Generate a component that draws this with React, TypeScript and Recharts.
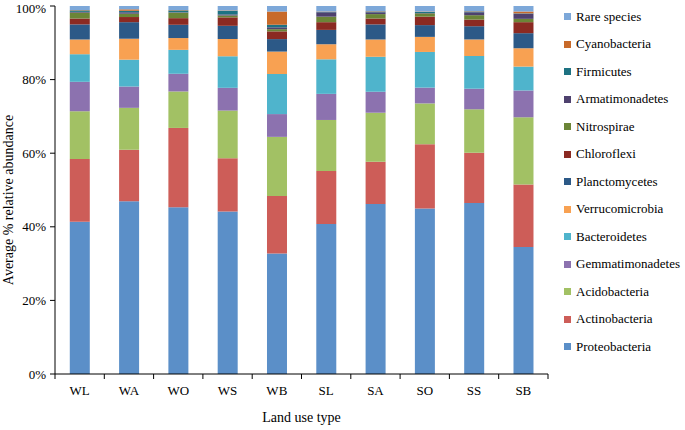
import React from 'react'
import { Bar, BarChart, XAxis, YAxis, Label } from 'recharts'

const categories = ['WL', 'WA', 'WO', 'WS', 'WB', 'SL', 'SA', 'SO', 'SS', 'SB']

// values, % per land use type
const proteobacteria = [41.4, 47.0, 45.3, 44.3, 32.8, 40.8, 46.2, 45.0, 46.5, 34.6]
const actinobacteria = [17.0, 14.0, 21.5, 14.5, 15.6, 14.4, 11.5, 17.5, 13.7, 17.0]
const acidobacteria = [13.0, 11.4, 9.9, 13.0, 16.1, 13.9, 13.3, 11.1, 11.8, 18.3]
const gemmatimonadetes = [8.0, 5.8, 4.8, 6.2, 6.2, 7.1, 5.7, 4.3, 5.6, 7.3]
const bacteroidetes = [7.5, 7.3, 6.5, 8.6, 10.9, 9.4, 9.5, 9.7, 8.9, 6.5]
const verrucomicrobia = [4.0, 5.7, 3.2, 4.7, 6.1, 4.1, 4.7, 4.1, 4.5, 5.0]
const planctomycetes = [4.1, 4.5, 3.6, 3.6, 3.4, 3.9, 4.1, 3.2, 3.6, 4.1]
const chloroflexi = [1.6, 1.4, 1.8, 2.3, 2.1, 2.1, 1.6, 2.3, 1.8, 3.0]
const nitrospirae = [1.6, 0.9, 1.5, 0.5, 0.6, 1.5, 1.2, 0.9, 1.2, 0.9]
const armatimonadetes = [0.2, 0.4, 0.1, 0.3, 0.5, 1.2, 0.5, 0.1, 0.8, 1.4]
const firmicutes = [0.4, 0.4, 0.5, 1.0, 0.7, 0.1, 0.2, 0.3, 0.2, 0.1]
const cyanobacteria = [0.1, 0.4, 0.1, 0.1, 3.6, 0.1, 0.1, 0.1, 0.1, 0.5]
const rareSpecies = [1.1, 0.9, 1.1, 1.2, 1.5, 1.5, 1.4, 1.5, 1.4, 1.5]

const yTicks = [0, 0.2, 0.4, 0.6, 0.8, 1]

const series = [
  { key: 'Proteobacteria', values: proteobacteria, color: '#5B8FC8' },
  { key: 'Actinobacteria', values: actinobacteria, color: '#CD5D58' },
  { key: 'Acidobacteria', values: acidobacteria, color: '#A2C164' },
  { key: 'Gemmatimonadetes', values: gemmatimonadetes, color: '#8C72AF' },
  { key: 'Bacteroidetes', values: bacteroidetes, color: '#4FB4CC' },
  { key: 'Verrucomicrobia', values: verrucomicrobia, color: '#F8A152' },
  { key: 'Planctomycetes', values: planctomycetes, color: '#2C5987' },
  { key: 'Chloroflexi', values: chloroflexi, color: '#8B2A22' },
  { key: 'Nitrospirae', values: nitrospirae, color: '#6B8537' },
  { key: 'Armatimonadetes', values: armatimonadetes, color: '#4E416E' },
  { key: 'Firmicutes', values: firmicutes, color: '#1E7282' },
  { key: 'Cyanobacteria', values: cyanobacteria, color: '#C86A2A' },
  { key: 'Rare species', values: rareSpecies, color: '#7DA8D9' },
]

const data = categories.map((name, i) => {
  const row: Record<string, number | string> = { name }
  series.forEach(s => {
    row[s.key] = s.values[i]
  })
  return row
})

const FONT = "'Liberation Serif', 'Times New Roman', serif"

function CategoryTick(props: any) {
  const { x, y, payload, index, visibleTicksCount } = props
  const half = payload && payload.offset ? payload.offset : 24.65
  const isLast = index === visibleTicksCount - 1
  return (
    <g>
      <line x1={x - half} x2={x - half} y1={y} y2={y + 5} stroke="#000" />
      {isLast && <line x1={x + half} x2={x + half} y1={y} y2={y + 5} stroke="#000" />}
      <text x={x} y={y + 21} textAnchor="middle" fontSize={13} fontFamily={FONT} fill="#000">
        {payload.value}
      </text>
    </g>
  )
}

export default function App() {
  const legendItems = [...series].reverse()
  return (
    <div style={{ position: 'absolute', left: 0, top: 0, width: 685, height: 430, background: '#fff' }}>
      <BarChart
        width={685}
        height={430}
        data={data}
        stackOffset="expand"
        barCategoryGap="30%"
        margin={{ top: 6, right: 137, left: 0, bottom: 6 }}
      >
        <XAxis
          dataKey="name"
          tickLine={false}
          tickSize={0}
          tickMargin={0}
          height={50}
          axisLine={{ stroke: '#000' }}
          tick={<CategoryTick />}
          interval={0}
        >
          <Label
            value="Land use type"
            position="insideBottom"
            offset={2}
            style={{ fontFamily: FONT, fontSize: 14, fill: '#000' }}
          />
        </XAxis>
        <YAxis
          width={55}
          domain={[0, 1]}
          ticks={yTicks}
          tickFormatter={v => `${Math.round(v * 100)}%`}
          axisLine={{ stroke: '#000' }}
          tickLine={{ stroke: '#000' }}
          tickSize={5}
          tickMargin={4}
          tick={{ fontFamily: FONT, fontSize: 13, fill: '#000' }}
        >
          <Label
            content={({ viewBox }: any) => {
              const cy = viewBox.y + viewBox.height / 2 + 10
              return (
                <text
                  x={10}
                  y={cy}
                  transform={`rotate(-90, 10, ${cy})`}
                  textAnchor="middle"
                  dominantBaseline="middle"
                  fontFamily={FONT}
                  fontSize={14}
                  fill="#000"
                >
                  Average % relative abundance
                </text>
              )
            }}
          />
        </YAxis>
        {series.map(s => (
          <Bar key={s.key} dataKey={s.key} stackId="a" fill={s.color} isAnimationActive={false} />
        ))}
      </BarChart>
      <div style={{ position: 'absolute', left: 564, top: 3, fontFamily: FONT, fontSize: 13 }}>
        {legendItems.map(s => (
          <div key={s.key} style={{ height: 27.5, display: 'flex', alignItems: 'center', whiteSpace: 'nowrap' }}>
            <span style={{ width: 7, height: 7, background: s.color, marginRight: 5, display: 'inline-block' }} />
            <span>{s.key}</span>
          </div>
        ))}
      </div>
    </div>
  )
}
